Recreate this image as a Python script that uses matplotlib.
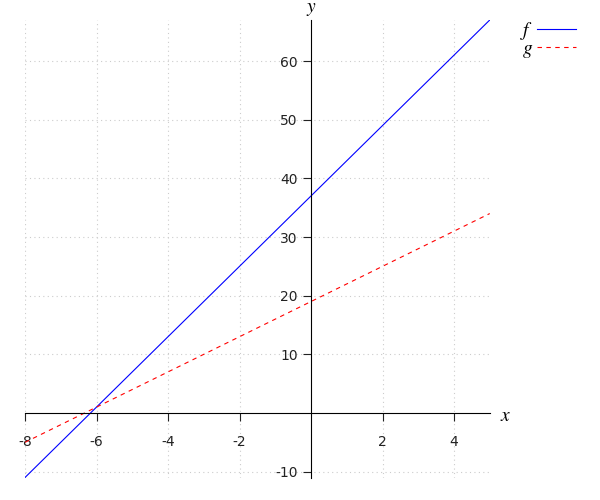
import matplotlib.pyplot as plt

plt.rcParams['mathtext.fontset'] = 'stix'

# line endpoints
x_vals = [-8, 5]
f_vals = [-11, 67]
g_vals = [-5, 34]

x_ticks = [-8, -6, -4, -2, 2, 4]
y_ticks = [-10, 10, 20, 30, 40, 50, 60]

fig = plt.figure(figsize=(6, 5), dpi=100)
ax = fig.add_axes([25/600, 22.5/500, 464.75/600, 457.5/500])

ax.plot(x_vals, f_vals, color='blue', lw=0.8, label='$f$')
ax.plot(x_vals, g_vals, color='red', lw=0.8, ls=(0, (4, 4)), label='$g$')

ax.set_xlim(-8, 5)
ax.set_ylim(-11, 67)

ax.spines['left'].set_position(('data', 0))
ax.spines['bottom'].set_position(('data', 0))
ax.spines['right'].set_visible(False)
ax.spines['top'].set_visible(False)
for s in ['left', 'bottom']:
    ax.spines[s].set_linewidth(0.8)

ax.set_xticks(x_ticks)
ax.set_yticks(y_ticks)
ax.set_xticklabels([str(t) for t in x_ticks])
ax.set_yticklabels([str(t) for t in y_ticks])
ax.tick_params(direction='out', length=6, width=0.8, labelsize=10, colors='#222222')
ax.tick_params(axis='x', pad=10)

# dotted grid on every even x and every 10 in y
for xv in x_ticks:
    ax.axvline(xv, color='#cccccc', lw=0.8, ls=(0, (1, 3)), zorder=0)
for yv in y_ticks:
    ax.axhline(yv, color='#cccccc', lw=0.8, ls=(0, (1, 3)), zorder=0)

ax.text(5.3, -0.5, '$x$', fontsize=14, va='center', ha='left')
ax.text(0, 68.9, '$y$', fontsize=14, va='center', ha='center')

leg = ax.legend(loc='upper left', bbox_to_anchor=(1.045, 1.022), frameon=False,
                markerfirst=False, fontsize=14, handlelength=2.0,
                handletextpad=0.2, labelspacing=-0.15, borderpad=0)

fig.savefig('out.png')
